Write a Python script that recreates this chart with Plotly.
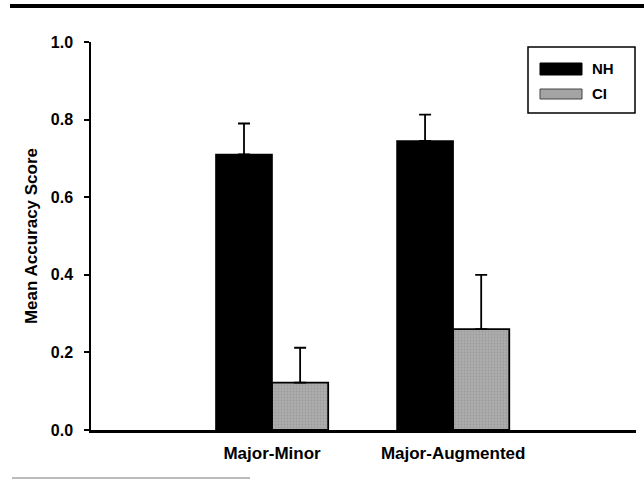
import plotly.graph_objects as go

categories = ["Major-Minor", "Major-Augmented"]
nh_values = [0.71, 0.745]
nh_errors = [0.08, 0.068]
ci_values = [0.122, 0.26]
ci_errors = [0.09, 0.14]
series_names = ["NH", "CI"]
y_ticks = [0.0, 0.2, 0.4, 0.6, 0.8, 1.0]

font_family = "Liberation Sans, Arial, sans-serif"

fig = go.Figure()
fig.add_trace(go.Bar(
    x=categories, y=nh_values, name=series_names[0],
    marker=dict(color="#000000", line=dict(color="#000000", width=1.5)),
    error_y=dict(type="data", array=nh_errors, symmetric=False, arrayminus=[0, 0],
                 color="#000000", thickness=1.8, width=6),
    showlegend=False,
))
fig.add_trace(go.Bar(
    x=categories, y=ci_values, name=series_names[1],
    marker=dict(color="#a4a4a4", line=dict(color="#000000", width=1.8),
                pattern=dict(shape=".", fgcolor="#8c8c8c", bgcolor="#acacac", size=3, solidity=0.3)),
    error_y=dict(type="data", array=ci_errors, symmetric=False, arrayminus=[0, 0],
                 color="#000000", thickness=1.8, width=6),
    showlegend=False,
))

# Custom legend (box with wide swatches)
fig.add_shape(type="rect", xref="paper", yref="paper",
              x0=(528 - 91) / 545, x1=(635 - 91) / 545,
              y0=(430 - 113) / 388, y1=(430 - 47) / 388,
              line=dict(color="#000000", width=1.5), fillcolor="white")
fig.add_shape(type="rect", xref="paper", yref="paper",
              x0=(540 - 91) / 545, x1=(582 - 91) / 545,
              y0=(430 - 75) / 388, y1=(430 - 63) / 388,
              line=dict(color="#000000", width=1), fillcolor="#000000")
fig.add_shape(type="rect", xref="paper", yref="paper",
              x0=(540 - 91) / 545, x1=(582 - 91) / 545,
              y0=(430 - 99) / 388, y1=(430 - 89) / 388,
              line=dict(color="#444444", width=1), fillcolor="#a4a4a4")
for name, yy in zip(series_names, [69, 94]):
    fig.add_annotation(xref="paper", yref="paper", x=(590 - 91) / 545, y=(430 - yy) / 388,
                       text="<b>%s</b>" % name, showarrow=False, xanchor="left", yanchor="middle",
                       font=dict(family=font_family, size=15, color="#000000"))

# Top rule and faint bottom rule
fig.add_shape(type="line", xref="paper", yref="paper",
              x0=(10 - 91) / 545, x1=(644 - 91) / 545,
              y0=(430 - 6) / 388, y1=(430 - 6) / 388,
              line=dict(color="#000000", width=4))
fig.add_shape(type="line", xref="paper", yref="paper",
              x0=(12 - 91) / 545, x1=(250 - 91) / 545,
              y0=(430 - 478) / 388, y1=(430 - 478) / 388,
              line=dict(color="#bbbbbb", width=2))

fig.update_layout(
    width=644, height=484,
    margin=dict(l=91, r=8, t=42, b=54),
    paper_bgcolor="white", plot_bgcolor="white",
    barmode="group", bargap=0.38, bargroupgap=0.0,
    font=dict(family=font_family, color="#000000"),
    xaxis=dict(
        type="category", range=[-1.0, 2.01],
        showline=True, linecolor="#000000", linewidth=2.5,
        ticks="", showgrid=False, zeroline=False,
        ticklabelstandoff=6,
        tickfont=dict(family=font_family, size=17, color="#000000"),
        tickprefix="<b>", ticksuffix="</b>",
    ),
    yaxis=dict(
        range=[0, 1.0], tickvals=y_ticks,
        ticktext=["<b>%.1f</b>" % v for v in y_ticks],
        showline=True, linecolor="#000000", linewidth=1.5,
        ticks="outside", ticklen=5, tickwidth=1.5, tickcolor="#000000",
        showgrid=False, zeroline=False,
        ticklabelstandoff=8,
        tickfont=dict(family=font_family, size=16, color="#000000"),
        title=dict(text="<b>Mean Accuracy Score</b>", standoff=9,
                   font=dict(family=font_family, size=17, color="#000000")),
    ),
)

fig.write_html("out.html")
